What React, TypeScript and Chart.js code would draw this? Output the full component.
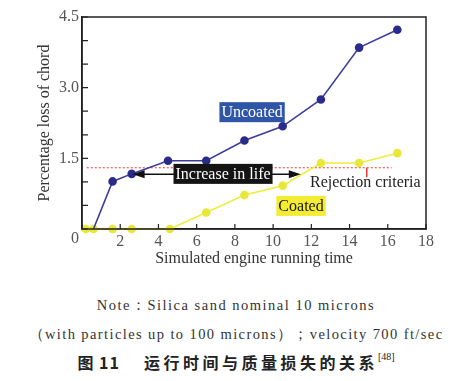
import React, { useEffect, useRef } from 'react';
import { Chart, registerables } from 'chart.js';

Chart.register(...registerables);

// ---- data ----
const uncoatedX = [0.6, 1.6, 2.6, 4.5, 6.5, 8.5, 10.5, 12.5, 14.5, 16.5];
const uncoatedY = [0, 1.01, 1.17, 1.45, 1.45, 1.88, 2.18, 2.75, 3.85, 4.23];
const coatedX = [0.2, 0.6, 1.6, 2.6, 4.6, 6.5, 8.5, 10.5, 12.5, 14.5, 16.5];
const coatedY = [0, 0, 0, 0, 0, 0.35, 0.72, 0.92, 1.4, 1.4, 1.61];
const xTickValues = [0, 2, 4, 6, 8, 10, 12, 14, 16, 18];
const yTickValues = [0, 1.5, 3.0, 4.5];
const yMinorStep = 0.5;
const rejectionLevel = 1.3;
const rejectionRange = [0.25, 16.2];
const lifeArrowRange = [2.65, 11.45];
const lifeArrowLevel = 1.16;

const xTitle = 'Simulated engine running time';
const yTitle = 'Percentage loss of chord';
const captionLines = [
  'Note\uFF1ASilica sand nominal 10 microns',
  '\uFF08with particles up to 100 microns\uFF09\uFF1Bvelocity 700 ft/sec',
];
const figureLabel = '\u56FE 11';
const figureTitle = '\u8FD0\u884C\u65F6\u95F4\u4E0E\u8D28\u91CF\u635F\u5931\u7684\u5173\u7CFB';
const figureRef = '[48]';

const SERIF = "'Liberation Serif', 'Times New Roman', 'DejaVu Serif', serif";

const annotationPlugin = {
  id: 'annots',
  beforeDatasetsDraw(chart: any) {
    const { ctx, scales } = chart;
    const xs = scales.x, ys = scales.y;
    const ry = ys.getPixelForValue(rejectionLevel);
    ctx.save();
    ctx.strokeStyle = '#e23a3a';
    ctx.lineWidth = 1;
    ctx.setLineDash([2, 2]);
    ctx.beginPath();
    ctx.moveTo(xs.getPixelForValue(rejectionRange[0]), ry);
    ctx.lineTo(xs.getPixelForValue(rejectionRange[1]), ry);
    ctx.stroke();
    ctx.restore();
  },
  afterDatasetsDraw(chart: any) {
    const { ctx, scales, chartArea } = chart;
    const xs = scales.x, ys = scales.y;
    const px = (v: number) => xs.getPixelForValue(v);
    const py = (v: number) => ys.getPixelForValue(v);
    ctx.save();
    ctx.strokeStyle = '#222';
    ctx.lineWidth = 1.5;
    ctx.strokeRect(chartArea.left, chartArea.top, chartArea.right - chartArea.left, chartArea.bottom - chartArea.top);
    ctx.lineWidth = 1.2;
    ctx.beginPath();
    for (const v of xTickValues) {
      const x = px(v);
      ctx.moveTo(x, chartArea.bottom);
      ctx.lineTo(x, chartArea.bottom - 5);
    }
    for (let v = 0; v <= 4.5 + 1e-9; v += yMinorStep) {
      const y = py(v);
      ctx.moveTo(chartArea.left, y);
      ctx.lineTo(chartArea.left + 6, y);
    }
    ctx.stroke();

    ctx.font = `16px ${SERIF}`;
    ctx.fillStyle = '#555';
    ctx.textAlign = 'center';
    ctx.textBaseline = 'middle';
    ctx.fillText('0', chartArea.left - 7, chartArea.bottom + 10);

    ctx.strokeStyle = '#e23a3a';
    ctx.lineWidth = 1.5;
    ctx.beginPath();
    ctx.moveTo(px(14.9), py(rejectionLevel));
    ctx.lineTo(px(14.9), py(1.1));
    ctx.stroke();

    const ay = py(lifeArrowLevel);
    const ax1 = px(lifeArrowRange[0]);
    const ax2 = px(lifeArrowRange[1]);
    ctx.strokeStyle = '#111';
    ctx.fillStyle = '#111';
    ctx.lineWidth = 1.5;
    ctx.beginPath();
    ctx.moveTo(ax1 + 8, ay);
    ctx.lineTo(ax2 - 8, ay);
    ctx.stroke();
    ctx.beginPath();
    ctx.moveTo(ax1, ay);
    ctx.lineTo(ax1 + 12, ay - 4);
    ctx.lineTo(ax1 + 12, ay + 4);
    ctx.closePath();
    ctx.fill();
    ctx.beginPath();
    ctx.moveTo(ax2, ay);
    ctx.lineTo(ax2 - 12, ay - 4);
    ctx.lineTo(ax2 - 12, ay + 4);
    ctx.closePath();
    ctx.fill();

    const box = (text: string, cx: number, cy: number, bg: string, fg: string) => {
      ctx.font = `16px ${SERIF}`;
      const w = ctx.measureText(text).width + 4;
      const h = 20;
      ctx.fillStyle = bg;
      ctx.fillRect(cx - w / 2, cy - h / 2, w, h);
      ctx.fillStyle = fg;
      ctx.textAlign = 'center';
      ctx.textBaseline = 'middle';
      ctx.fillText(text, cx, cy + 1);
    };
    box('Uncoated', px(8.9), py(2.48), '#2f56a6', '#ffffff');
    box('Increase in life', px(7.38), py(1.17), '#141414', '#ffffff');
    box('Coated', px(11.46), py(0.49), '#f3ec33', '#1a1a1a');

    ctx.font = `16px ${SERIF}`;
    ctx.fillStyle = '#222';
    ctx.textAlign = 'left';
    ctx.textBaseline = 'middle';
    ctx.fillText('Rejection criteria', px(11.93), py(0.98));
    ctx.restore();
  },
};

const captionStyle: React.CSSProperties = {
  position: 'absolute',
  left: 0,
  width: 472,
  textAlign: 'center',
  fontFamily: "'Liberation Serif', serif",
  fontSize: 14.5,
  letterSpacing: 1.5,
  color: '#333',
  lineHeight: '20px',
  whiteSpace: 'nowrap',
};

function App() {
  const ref = useRef<HTMLCanvasElement | null>(null);
  useEffect(() => {
    if (!ref.current) return;
    const chart = new Chart(ref.current, {
      type: 'line',
      data: {
        datasets: [
          {
            label: 'Uncoated',
            data: uncoatedX.map((x, i) => ({ x, y: uncoatedY[i] })),
            borderColor: '#3d3d9c',
            backgroundColor: '#2b2b8c',
            pointBackgroundColor: '#2b2b8c',
            pointBorderColor: '#2b2b8c',
            borderWidth: 1.6,
            pointRadius: (c: any) => (c.dataIndex === 0 ? 0 : 3.5),
            clip: false,
          },
          {
            label: 'Coated',
            data: coatedX.map((x, i) => ({ x, y: coatedY[i] })),
            borderColor: '#eeee3a',
            backgroundColor: '#e8e83a',
            pointBackgroundColor: '#e8e83a',
            pointBorderColor: '#e8e83a',
            borderWidth: 1.6,
            pointRadius: 3.5,
            clip: false,
          },
        ],
      },
      options: {
        responsive: false,
        animation: false,
        layout: { padding: { left: 0, right: 46, top: 17, bottom: 0 } },
        plugins: { legend: { display: false }, tooltip: { enabled: false } },
        scales: {
          x: {
            type: 'linear',
            min: 0,
            max: 18,
            afterBuildTicks: (s: any) => {
              s.ticks = xTickValues.map((v) => ({ value: v }));
            },
            afterFit: (s: any) => {
              s.height = 51;
            },
            grid: { display: false, drawTicks: false },
            border: { display: true, color: '#222', width: 1.5 },
            ticks: {
              padding: 3,
              color: '#555',
              font: { family: SERIF, size: 16 },
              maxRotation: 0,
              callback: (v: any) => (v === 0 ? '' : String(v)),
            },
            title: {
              display: true,
              text: xTitle,
              color: '#333',
              font: { family: SERIF, size: 16 },
              padding: { top: 0, bottom: 12 },
            },
          },
          y: {
            type: 'linear',
            min: 0,
            max: 4.5,
            afterBuildTicks: (s: any) => {
              s.ticks = yTickValues.map((v) => ({ value: v }));
            },
            afterFit: (s: any) => {
              s.width = 82;
            },
            grid: { display: false, drawTicks: false },
            border: { display: true, color: '#222', width: 1.5 },
            ticks: {
              padding: 3,
              color: '#555',
              font: { family: SERIF, size: 16 },
              callback: (v: any) => (v === 0 ? '' : Number(v).toFixed(1)),
            },
            title: {
              display: true,
              text: yTitle,
              color: '#333',
              font: { family: SERIF, size: 16 },
              padding: { top: 35, bottom: 0 },
            },
          },
        },
      },
      plugins: [annotationPlugin],
    } as any);
    return () => chart.destroy();
  }, []);

  return (
    <div style={{ position: 'absolute', left: 0, top: 0, width: 472, height: 381, background: '#fff', overflow: 'hidden' }}>
      <canvas ref={ref} width={472} height={280} style={{ display: 'block', width: 472, height: 280 }} />
      <div style={{ ...captionStyle, top: 295 }}>{captionLines[0]}</div>
      <div style={{ ...captionStyle, top: 324, letterSpacing: 1.4 }}>{captionLines[1]}</div>
      <div style={{ position: 'absolute', left: 0, width: 472, top: 351, textAlign: 'center', fontFamily: "'Noto Sans CJK SC', sans-serif", fontSize: 16, fontWeight: 700, color: '#222', lineHeight: '22px', whiteSpace: 'nowrap' }}>
        <span style={{ letterSpacing: 1 }}>{figureLabel}</span>
        <span style={{ display: 'inline-block', width: 24 }} />
        <span style={{ letterSpacing: 3.5 }}>{figureTitle}</span>
        <sup style={{ fontSize: 10, fontWeight: 400, fontFamily: SERIF, verticalAlign: 'top', lineHeight: '12px' }}>{figureRef}</sup>
      </div>
    </div>
  );
}

export default App;
